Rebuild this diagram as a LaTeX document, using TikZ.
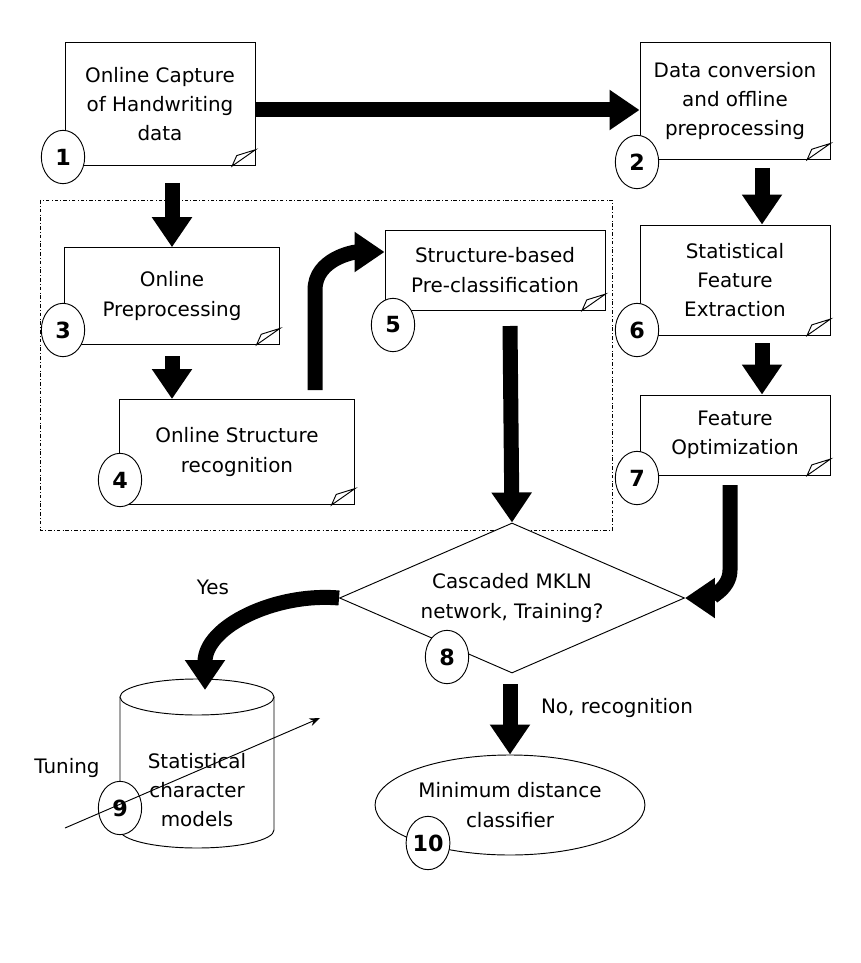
\documentclass[tikz,border=0pt]{standalone}
\usepackage{fontspec}
\setmainfont{DejaVu Sans}
\usetikzlibrary{shapes.geometric,arrows.meta}
\newcommand{\foldcorner}[1]{%
  \draw[fill=white,thick] ([xshift=-20pt]#1.south east) -- ([yshift=14pt]#1.south east)
    -- ([xshift=-16pt,yshift=9pt]#1.south east) -- cycle;}
\begin{document}
\begin{tikzpicture}[x=0.03cm,y=-0.03cm,
    docNode/.style={rectangle,draw=black,fill=white,thick,align=center,font=\fontsize{17}{25}\selectfont,inner sep=0pt},
    numNode/.style={ellipse,draw=black,fill=white,thick,minimum width=1.3cm,minimum height=1.6cm,inner sep=0pt,font=\bfseries\fontsize{19}{19}\selectfont},
    bigArrow/.style={line width=0.45cm,-{Triangle[length=0.9cm,width=1.15cm]}},
    txt/.style={font=\fontsize{17}{20}\selectfont}
    ]
    \useasboundingbox (0,0) rectangle (860,963);
    % grouping frame
    \draw[dash dot,thin] (40,200) rectangle (612,530);

    % document boxes
    \node[docNode,minimum width=5.7cm,minimum height=3.7cm] (d1) at (160,104) {Online Capture\\of Handwriting\\data};
    \node[docNode,minimum width=5.7cm,minimum height=3.5cm] (d2) at (735,101) {Data conversion\\and offline\\preprocessing};
    \node[docNode,minimum width=6.45cm,minimum height=2.9cm] (d3) at (172,296) {Online\\Preprocessing};
    \node[docNode,minimum width=7.05cm,minimum height=3.15cm] (d4) at (237,452) {Online Structure\\recognition};
    \node[docNode,minimum width=6.6cm,minimum height=2.4cm] (d5) at (495,270) {Structure-based\\Pre-classification};
    \node[docNode,minimum width=5.7cm,minimum height=3.3cm] (d6) at (735,280) {Statistical\\Feature\\Extraction};
    \node[docNode,minimum width=5.7cm,minimum height=2.4cm] (d7) at (735,435) {Feature\\Optimization};
    \foreach \d in {d1,d2,d3,d4,d5,d6,d7} {\foldcorner{\d}}

    % decision, storage, classifier
    \node[diamond,draw=black,fill=white,thick,aspect=2.3,minimum width=10.35cm,minimum height=4.5cm,align=center,font=\fontsize{17}{25}\selectfont,inner sep=0pt] (train) at (512,598) {Cascaded MKLN\\network, Training?};
    \draw[thick,fill=white] (120,697) -- (120,830) arc[start angle=180,end angle=360,x radius=77,y radius=-18] -- (274,697);
    \draw[thick,fill=white] (197,697) ellipse[x radius=77,y radius=-18];
    \node[align=center,font=\fontsize{17}{25}\selectfont] (models) at (197,790) {Statistical\\character\\models};
    \node[ellipse,draw=black,fill=white,thick,minimum width=7.05cm,minimum height=3cm,align=center,font=\fontsize{17}{25}\selectfont] (classif) at (510,805) {Minimum distance\\classifier};

    % numbers
    \node[numNode] (n1) at (63,157) {1};
    \node[numNode] (n2) at (637,162) {2};
    \node[numNode] (n3) at (63,330) {3};
    \node[numNode] (n4) at (120,480) {4};
    \node[numNode] (n5) at (393,325) {5};
    \node[numNode] (n6) at (637,330) {6};
    \node[numNode] (n7) at (637,478) {7};
    \node[numNode] (n8) at (447,657) {8};
    \node[numNode] (n9) at (120,808) {9};
    \node[numNode] (n10) at (428,843) {10};

    % flow arrows
    \draw[bigArrow] (d1.east |- 0,110) -- (d2.west |- 0,110);
    \draw[bigArrow] (172,183) -- (d3.north -| 172,0);
    \draw[bigArrow] (762,168) -- (d6.north -| 762,0);
    \draw[bigArrow] (172,356) -- (d4.north -| 172,0);
    \draw[bigArrow] (762,343) -- (d7.north -| 762,0);
    \draw[bigArrow] (315,390) -- (315,290) to[out=90,in=180] (d5.west |- 0,252);
    \draw[bigArrow] (510,326) -- (train.north);
    \draw[bigArrow] (730,485) -- (730,570) to[out=-90,in=0] (train.east);
    \draw[bigArrow] (train.west) to[out=175,in=90] (205,690);
    \draw[bigArrow] (510,684) -- (classif.north);

    % labels
    \node[txt] (yes) at (213,587) {Yes};
    \node[txt] (norec) at (617,708) {No, recognition};
    \node[txt] (tuning) at (67,768) {Tuning};
    \coordinate (tuneA) at (65,828);
    \coordinate (tuneB) at (320,718);
    \draw[thick,-{Stealth[length=9pt]}] (tuneA) -- (tuneB);
\end{tikzpicture}
\end{document}
